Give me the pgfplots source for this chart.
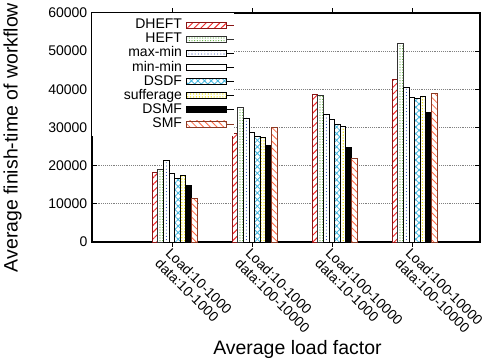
\documentclass[border=0pt]{standalone}
\usepackage{pgfplots}
\pgfplotsset{compat=1.18}
\usepackage{pgfplotstable}
\usepackage{fontspec}
\setmainfont{Liberation Sans}
\usetikzlibrary{patterns,patterns.meta}
\definecolor{cDHEFT}{HTML}{F02828}
\definecolor{bDHEFT}{HTML}{8A1515}
\definecolor{cHEFT}{HTML}{5FB040}
\definecolor{cMAX}{HTML}{2545B0}
\definecolor{cDSDF}{HTML}{40B5DD}
\definecolor{cSUF}{HTML}{F2E600}
\definecolor{cSMF}{HTML}{FF6A45}
\definecolor{bSMF}{HTML}{8A3A25}
\newcommand{\legtxt}[1]{\makebox[67.3pt][r]{#1}}
\pgfplotstableread{
x DHEFT HEFT maxmin minmin DSDF sufferage DSMF SMF
1.033 18200 19100 21400 18100 16700 17500 14800 11300
2.033 28500 35200 32500 28800 27600 27500 25200 30100
3.033 38700 38400 33500 32000 30700 30200 24800 22000
4.033 42700 52100 40500 37900 37500 38100 33900 39000
}\datatable
\begin{document}
\begin{tikzpicture}
\begin{axis}[
  name=ax,
  scale only axis,
  width=291pt, height=171.75pt,
  xmin=0, xmax=4.85,
  ymin=0, ymax=60000,
  ytick={0,10000,20000,30000,40000,50000,60000},
  scaled y ticks=false,
  xtick={1,2,3,4},
  xticklabels={{Load:10-1000\\data:10-1000},{Load:10-1000\\data:100-10000},{Load:100-10000\\data:10-1000},{Load:100-10000\\data:100-10000}},
  /pgf/number format/1000 sep={},
  /pgf/number format/assume math mode=true,
  tick label style={font=\fontsize{10.5}{11}\selectfont},
  xticklabel style={rotate=-45, anchor=north west, align=left, inner sep=0pt},
  major tick length=3.5pt,
  tick style={black, line width=0.6pt},
  axis line style={line width=0.8pt},
  ymajorgrids,
  major grid style={densely dotted, gray, line width=0.6pt},
  xlabel={Average load factor},
  ylabel={Average finish-time of workflow},
  label style={font=\fontsize{14.6}{16}\selectfont},
  xlabel style={at={(axis description cs:0.5296,-0.4934)}, anchor=base},
  ylabel style={at={(axis description cs:-0.1915,0.456)}, anchor=base, rotate=0},
  ybar=0pt,
  bar width=0.0703,
  every axis plot post/.append style={legend image code/.code={\draw[##1] (0pt,-2.25pt) rectangle (30pt,2.25pt); \path (30pt,0pt) -- (35.25pt,0pt);}},
  legend style={at={(0,1)}, anchor=north west, draw=none, fill=white, inner xsep=0pt, inner ysep=3.5pt, row sep=0pt, column sep=3.2pt,
    nodes={font=\fontsize{10.5}{11}\selectfont, inner xsep=0pt, inner ysep=0pt, text height=8pt, text depth=2.6pt}},
  legend plot pos=right,
  legend cell align=right,
]
\addplot[draw=bDHEFT, line width=0.6pt, fill=white, postaction={pattern={Lines[angle=45,distance=3.6pt,line width=0.7pt]}, pattern color=cDHEFT}] table[x=x,y=DHEFT] {\datatable};
\addlegendentry{\legtxt{DHEFT}}
\addplot[draw=black!80, line width=0.6pt, fill=white, postaction={pattern={Dots[distance=2pt,radius=0.45pt]}, pattern color=cHEFT}] table[x=x,y=HEFT] {\datatable};
\addlegendentry{\legtxt{HEFT}}
\addplot[draw=black, line width=0.6pt, fill=white, postaction={pattern={Dots[distance=2.4pt,radius=0.4pt]}, pattern color=cMAX}] table[x=x,y=maxmin] {\datatable};
\addlegendentry{\legtxt{max-min}}
\addplot[draw=black, line width=0.6pt, fill=white] table[x=x,y=minmin] {\datatable};
\addlegendentry{\legtxt{min-min}}
\addplot[draw=black, line width=0.6pt, fill=white, postaction={pattern={Hatch[angle=45,distance=3.5pt,line width=0.6pt]}, pattern color=cDSDF}] table[x=x,y=DSDF] {\datatable};
\addlegendentry{\legtxt{DSDF}}
\addplot[draw=black, line width=0.6pt, fill=white, postaction={pattern={Dots[distance=2.2pt,radius=0.55pt]}, pattern color=cSUF}] table[x=x,y=sufferage] {\datatable};
\addlegendentry{\legtxt{sufferage}}
\addplot[draw=black, line width=0.6pt, fill=black] table[x=x,y=DSMF] {\datatable};
\addlegendentry{\legtxt{DSMF}}
\addplot[draw=bSMF, line width=0.6pt, fill=white, postaction={pattern={Lines[angle=-45,distance=3.6pt,line width=0.6pt]}, pattern color=cSMF}] table[x=x,y=SMF] {\datatable};
\addlegendentry{\legtxt{SMF}}
\end{axis}
\pgfresetboundingbox
\path ([shift={(-69pt,-87pt)}]ax.south west) rectangle ([shift={(297pt,181.5pt)}]ax.south west);
\end{tikzpicture}
\end{document}
